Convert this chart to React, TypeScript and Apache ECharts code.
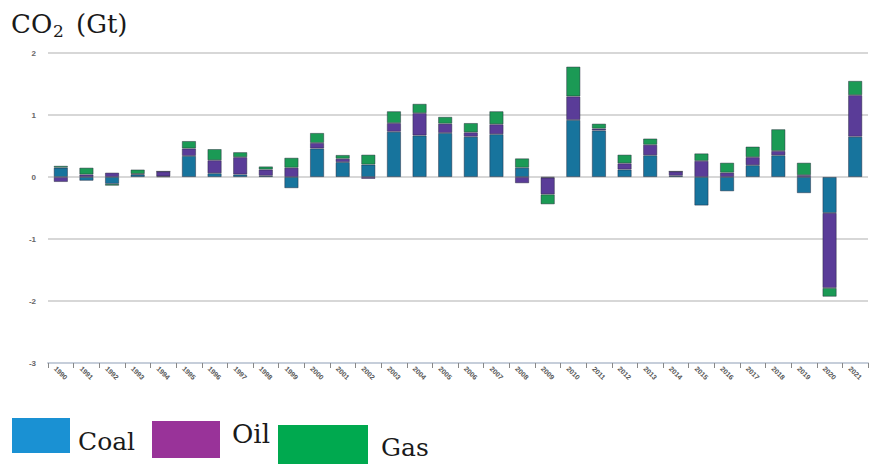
import React, { useEffect, useRef } from "react";
import * as echarts from "echarts";

const years = [
  "1990", "1991", "1992", "1993", "1994", "1995", "1996", "1997", "1998", "1999",
  "2000", "2001", "2002", "2003", "2004", "2005", "2006", "2007", "2008", "2009",
  "2010", "2011", "2012", "2013", "2014", "2015", "2016", "2017", "2018", "2019",
  "2020", "2021",
];

const coal = [
  0.15, -0.06, -0.11, 0.04, 0.01, 0.34, 0.06, 0.04, 0.02, -0.18,
  0.46, 0.24, 0.2, 0.73, 0.67, 0.71, 0.65, 0.69, 0.15, -0.01,
  0.92, 0.75, 0.12, 0.35, 0.02, -0.46, -0.23, 0.19, 0.35, -0.26,
  -0.58, 0.65,
];

const oil = [
  -0.08, 0.04, 0.07, 0.01, 0.08, 0.12, 0.21, 0.28, 0.1, 0.15,
  0.09, 0.055, -0.03, 0.14, 0.36, 0.15, 0.07, 0.16, -0.1, -0.27,
  0.38, 0.03, 0.1, 0.17, 0.07, 0.26, 0.07, 0.13, 0.07, 0.03,
  -1.21, 0.67,
];

const gas = [
  0.03, 0.11, -0.03, 0.07, 0.0, 0.12, 0.18, 0.08, 0.05, 0.16,
  0.16, 0.06, 0.16, 0.19, 0.15, 0.11, 0.15, 0.21, 0.15, -0.16,
  0.48, 0.08, 0.14, 0.1, 0.0, 0.12, 0.16, 0.17, 0.35, 0.2,
  -0.14, 0.23,
];

const yTicks = [-3, -2, -1, 0, 1, 2];

const barColors = { coal: "#17749d", oil: "#5a3c98", gas: "#1b9a55" };
const legendColors = { coal: "#1a91d3", oil: "#993399", gas: "#00a94f" };

const serif = "\"DejaVu Serif\"";

export default function App() {
  const ref = useRef<HTMLDivElement>(null);

  useEffect(() => {
    if (!ref.current) return;
    const chart = echarts.init(ref.current, null, { renderer: "svg" });

    const mkSeries = (name: string, data: number[], color: string) => ({
      name,
      type: "bar",
      stack: "total",
      data,
      barWidth: "55%",
      itemStyle: {
        color,
        borderColor: "rgba(30,30,50,0.55)",
        borderWidth: 0.8,
      },
    });

    const txt = (text: string, x: number, y: number, size: number) => ({
      type: "text",
      x,
      y,
      style: {
        text,
        font: `normal ${size}px ${serif}`,
        fill: "#1a1a1a",
        verticalAlign: "middle",
      },
    });

    chart.setOption({
      animation: false,
      backgroundColor: "#ffffff",
      grid: { left: 48, right: 4, top: 53, bottom: 101 },
      xAxis: {
        type: "category",
        data: years,
        axisLine: { onZero: false, lineStyle: { color: "#c6ceda", width: 2 } },
        axisTick: { show: true, length: 5, interval: 0, lineStyle: { color: "#888" } },
        axisLabel: {
          interval: 0,
          rotate: -45,
          fontSize: 7,
          fontFamily: "sans-serif",
          color: "#555",
          fontWeight: "bold",
          margin: 10,
          align: "center",
          verticalAlign: "middle",
        },
      },
      yAxis: {
        type: "value",
        min: yTicks[0],
        max: yTicks[yTicks.length - 1],
        interval: 1,
        axisLine: { show: false },
        axisTick: { show: false },
        axisLabel: { fontSize: 8, fontFamily: "sans-serif", color: "#666", fontWeight: "bold", margin: 12 },
        splitLine: { lineStyle: { color: "#cacaca", width: 1.5 } },
      },
      series: [
        mkSeries("Coal", coal, barColors.coal),
        mkSeries("Oil", oil, barColors.oil),
        mkSeries("Gas", gas, barColors.gas),
      ],
      graphic: [
        txt("CO", 11, 24, 26),
        txt("2", 53, 31, 17),
        txt("(Gt)", 76, 24, 26),
        { type: "rect", shape: { x: 12, y: 418, width: 58, height: 35 }, style: { fill: legendColors.coal } },
        txt("Coal", 78, 441, 25),
        { type: "rect", shape: { x: 152, y: 421, width: 68, height: 37 }, style: { fill: legendColors.oil } },
        txt("Oil", 232, 434, 26),
        { type: "rect", shape: { x: 278, y: 425, width: 90, height: 40 }, style: { fill: legendColors.gas } },
        txt("Gas", 381, 447, 25),
      ],
    });

    return () => chart.dispose();
  }, []);

  return (
    <div
      ref={ref}
      style={{ position: "fixed", left: 0, top: 0, width: 872, height: 464 }}
    />
  );
}
